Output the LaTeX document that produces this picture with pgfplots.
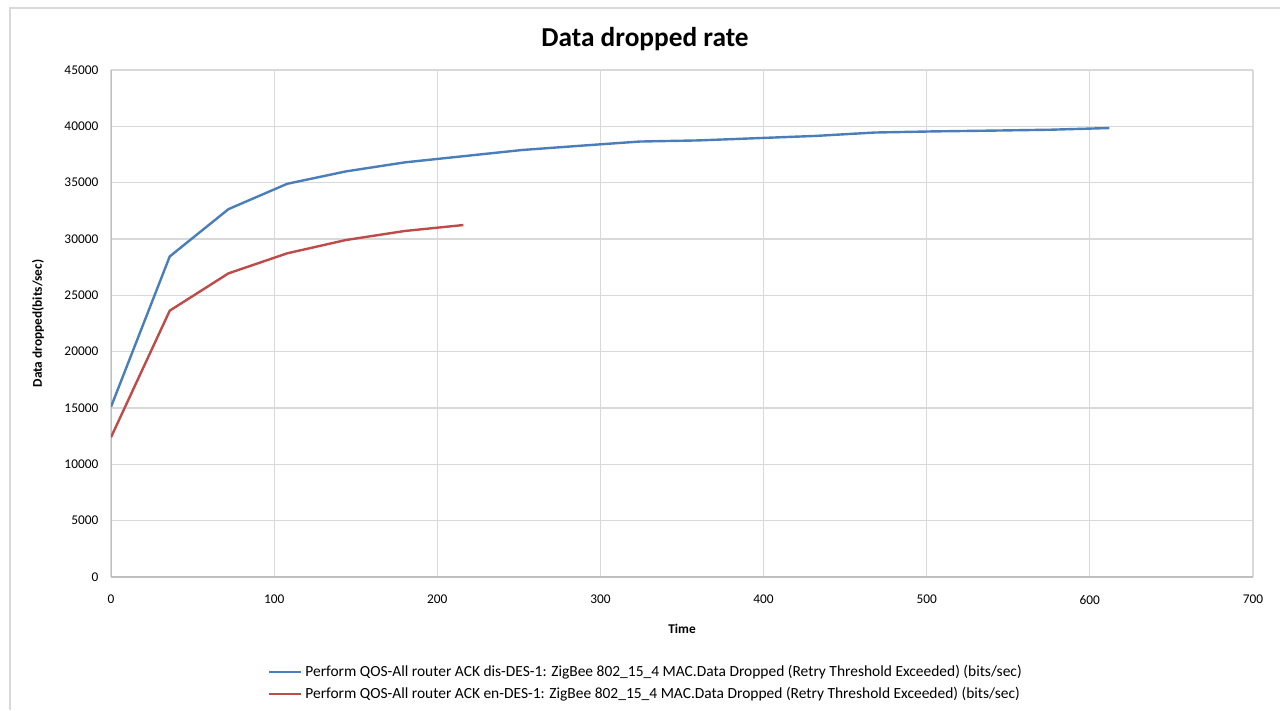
\documentclass[border=0pt]{standalone}
\usepackage{fontspec}
\setmainfont{Carlito}
\usepackage{pgfplots}
\pgfplotsset{compat=1.18}

\definecolor{serblue}{HTML}{4A7EBB}
\definecolor{serred}{HTML}{BE4B48}
\definecolor{gridgray}{HTML}{D9D9D9}
\definecolor{axisgray}{HTML}{BFBFBF}

\begin{document}
\begin{tikzpicture}
% 1 px of the reference = 0.75pt
\useasboundingbox (-83.25pt,-99.75pt) rectangle (876.75pt,432.75pt);
\draw[gridgray, line width=0.8pt] (-75.75pt,-99.75pt) -- (-75.75pt,426.75pt) -- (876.75pt,426.75pt);
\begin{axis}[
    at={(0,0)}, anchor=south west,
    scale only axis,
    width=856.5pt, height=380.25pt,
    xmin=0, xmax=700, ymin=0, ymax=45000,
    xtick={0,100,...,700},
    ytick={0,5000,...,45000},
    scaled ticks=false,
    /pgf/number format/.cd, set thousands separator={}, assume math mode=true,
    /pgfplots/.cd,
    tick label style={font=\fontsize{10}{12}\selectfont, black},
    major tick length=0pt,
    xticklabel style={yshift=-10pt},
    yticklabel style={xshift=-6pt},
    grid=major,
    grid style={gridgray, line width=0.8pt},
    axis line style={draw=none},
    legend cell align=left,
    legend style={at={(0.1375,-0.168)}, anchor=north west, draw=none, fill=none,
        font=\fontsize{11.6}{13.5}\selectfont, row sep=2.6pt, inner sep=0pt},
    legend image code/.code={\draw[#1, line width=1.8pt] (0pt,0pt) -- (24pt,0pt);},
]
\draw[axisgray, line width=0.8pt] (axis cs:0,45000) -- (axis cs:0,0) -- (axis cs:700,0);

\addplot[serblue, line width=1.8pt] coordinates {
    (0,15100) (36,28450) (72,32650) (108,34900) (144,36000) (180,36800)
    (216,37350) (252,37900) (288,38280) (324,38650) (360,38750) (396,38950)
    (432,39150) (468,39450) (504,39550) (540,39620) (576,39700) (612,39850)
};
\addplot[serred, line width=1.8pt] coordinates {
    (0,12400) (36,23640) (72,26950) (108,28730) (144,29910) (180,30710) (216,31240)
};
\legend{Perform QOS-All router ACK dis-DES-1: ZigBee 802\_15\_4 MAC.Data Dropped (Retry Threshold Exceeded) (bits/sec),
        Perform QOS-All router ACK en-DES-1: ZigBee 802\_15\_4 MAC.Data Dropped (Retry Threshold Exceeded) (bits/sec)}
\end{axis}
\node[font=\bfseries\fontsize{20.5}{24}\selectfont] at (400.5pt,403.5pt) {Data dropped rate};
\node[font=\bfseries\fontsize{10}{12}\selectfont, rotate=90] at (-54.75pt,190.1pt) {Data dropped(bits/sec)};
\node[font=\bfseries\fontsize{10}{12}\selectfont] at (428.25pt,-39pt) {Time};
\end{tikzpicture}
\end{document}
